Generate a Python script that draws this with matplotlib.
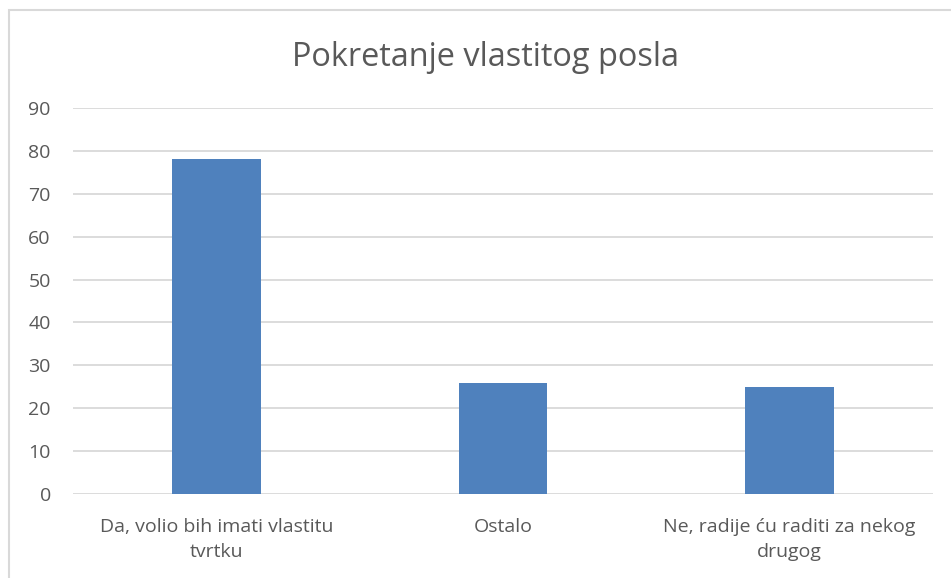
import matplotlib.pyplot as plt
from matplotlib.patches import Rectangle

categories = ['Da, volio bih imati vlastitu\ntvrtku', 'Ostalo', 'Ne, radije ću raditi za nekog\ndrugog']
values = [78, 26, 25]

TEXT = '#595959'
GRID = '#D9D9D9'
BAR = '#4F81BD'

plt.rcParams['font.family'] = ['Open Sans', 'DejaVu Sans']

fig = plt.figure(figsize=(9.51, 5.78), dpi=100)
ax = fig.add_axes([0.0768, 0.1453, 0.9042, 0.6678])

ax.bar(range(len(values)), values, width=0.31, color=BAR, zorder=3)
ax.set_xlim(-0.5, len(values) - 0.5)
ax.set_ylim(0, 90)
ax.set_yticks(range(0, 91, 10))
ax.set_xticks(range(len(values)))
ax.set_xticklabels(categories, linespacing=1.5)

ax.grid(axis='y', color=GRID, linewidth=1.3, zorder=0)
for s in ax.spines.values():
    s.set_visible(False)
ax.tick_params(axis='both', length=0, colors=TEXT, labelsize=14)
ax.tick_params(axis='y', pad=16)
ax.tick_params(axis='x', pad=17)

fig.text(0.5105, 0.9, 'Pokretanje vlastitog posla', ha='center', va='center',
         fontsize=23.4, color=TEXT)

# chart frame
fig.patches.append(Rectangle((9 / 951, -0.1), 1.2, 1.1 - 10 / 578, transform=fig.transFigure,
                             fill=False, edgecolor=GRID, linewidth=1.5))

fig.savefig('out.png', dpi=100)
